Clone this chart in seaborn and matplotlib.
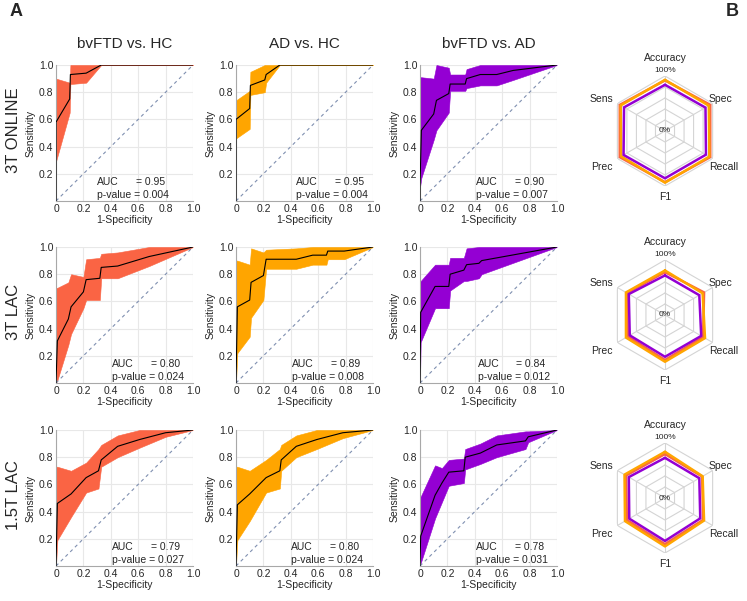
import matplotlib
matplotlib.use("Agg")
import numpy as np
import matplotlib.pyplot as plt
import seaborn as sns

sns.set_style("whitegrid")
plt.rcParams['font.family'] = ['Liberation Sans', 'DejaVu Sans']

W, H = 747, 601

rows = ['3T ONLINE', '3T LAC', '1.5T LAC']
comparisons = ['bvFTD vs. HC', 'AD vs. HC', 'bvFTD vs. AD']
colors = ['#FA6444', '#FFA500', '#9400D3']

auc_values = [['0.95', '0.95', '0.90'],
              ['0.80', '0.89', '0.84'],
              ['0.79', '0.80', '0.78']]
p_values = [['0.004', '0.004', '0.007'],
            ['0.024', '0.008', '0.012'],
            ['0.027', '0.024', '0.031']]

# ROC curves: fpr, mean tpr, lower band, upper band
# 3T ONLINE
online_ftd_hc_fpr = [0.0, 0.0, 0.10, 0.105, 0.22, 0.33, 1.0]
online_ftd_hc_mean = [0.0, 0.58, 0.75, 0.93, 0.94, 1.0, 1.0]
online_ftd_hc_lo = [0.0, 0.29, 0.65, 0.86, 0.87, 1.0, 1.0]
online_ftd_hc_hi = [0.0, 0.90, 0.87, 1.0, 1.0, 1.0, 1.0]

online_ad_hc_fpr = [0.0, 0.0, 0.10, 0.105, 0.21, 0.22, 0.32, 1.0]
online_ad_hc_mean = [0.0, 0.60, 0.68, 0.85, 0.89, 0.93, 1.0, 1.0]
online_ad_hc_lo = [0.0, 0.46, 0.53, 0.78, 0.80, 0.87, 1.0, 1.0]
online_ad_hc_hi = [0.0, 0.74, 0.81, 0.95, 1.0, 1.0, 1.0, 1.0]

online_ftd_ad_fpr = [0.0, 0.0, 0.01, 0.10, 0.12, 0.21, 0.22, 0.33, 0.34, 0.44, 0.56, 0.68, 1.0]
online_ftd_ad_mean = [0.0, 0.10, 0.52, 0.64, 0.74, 0.79, 0.86, 0.86, 0.90, 0.93, 0.93, 0.96, 1.0]
online_ftd_ad_lo = [0.0, 0.10, 0.17, 0.45, 0.52, 0.65, 0.81, 0.81, 0.83, 0.85, 0.85, 0.89, 1.0]
online_ftd_ad_hi = [0.0, 0.91, 0.91, 0.90, 1.0, 0.98, 0.93, 0.93, 0.97, 1.0, 1.0, 1.0, 1.0]

# 3T LAC
lac_ftd_hc_fpr = [0.0, 0.01, 0.09, 0.11, 0.20, 0.22, 0.32, 0.33, 0.45, 0.68, 1.0]
lac_ftd_hc_mean = [0.0, 0.31, 0.47, 0.56, 0.67, 0.76, 0.77, 0.85, 0.86, 0.93, 1.0]
lac_ftd_hc_lo = [0.0, 0.02, 0.28, 0.36, 0.55, 0.61, 0.61, 0.77, 0.77, 0.86, 1.0]
lac_ftd_hc_hi = [0.70, 0.70, 0.74, 0.80, 0.78, 0.91, 0.92, 0.95, 0.96, 1.0, 1.0]

lac_ad_hc_fpr = [0.0, 0.01, 0.10, 0.11, 0.20, 0.22, 0.44, 0.56, 0.66, 0.67, 0.79, 1.0]
lac_ad_hc_mean = [0.0, 0.56, 0.61, 0.74, 0.79, 0.91, 0.91, 0.94, 0.94, 0.97, 0.97, 1.0]
lac_ad_hc_lo = [0.0, 0.22, 0.34, 0.48, 0.61, 0.84, 0.84, 0.87, 0.87, 0.91, 0.91, 1.0]
lac_ad_hc_hi = [0.90, 0.90, 0.87, 0.99, 0.96, 0.98, 0.99, 1.0, 1.0, 1.0, 1.0, 1.0]

lac_ftd_ad_fpr = [0.0, 0.005, 0.11, 0.21, 0.22, 0.32, 0.34, 0.43, 0.45, 1.0]
lac_ftd_ad_mean = [0.0, 0.52, 0.71, 0.71, 0.80, 0.83, 0.87, 0.88, 0.90, 1.0]
lac_ftd_ad_lo = [0.0, 0.30, 0.55, 0.55, 0.68, 0.75, 0.75, 0.77, 0.80, 1.0]
lac_ftd_ad_hi = [0.75, 0.75, 0.87, 0.87, 0.92, 0.92, 0.99, 1.0, 1.0, 1.0]

# 1.5T LAC
low_ftd_hc_fpr = [0.0, 0.01, 0.11, 0.22, 0.31, 0.33, 0.45, 0.61, 0.80, 1.0]
low_ftd_hc_mean = [0.0, 0.46, 0.53, 0.65, 0.70, 0.78, 0.88, 0.93, 0.98, 1.0]
low_ftd_hc_lo = [0.0, 0.19, 0.36, 0.54, 0.57, 0.73, 0.80, 0.87, 0.95, 1.0]
low_ftd_hc_hi = [0.73, 0.73, 0.70, 0.76, 0.86, 0.89, 0.96, 1.0, 1.0, 1.0]

low_ad_hc_fpr = [0.0, 0.01, 0.10, 0.22, 0.32, 0.33, 0.44, 0.59, 0.78, 1.0]
low_ad_hc_mean = [0.0, 0.45, 0.53, 0.65, 0.70, 0.78, 0.88, 0.93, 0.98, 1.0]
low_ad_hc_lo = [0.0, 0.19, 0.33, 0.54, 0.57, 0.70, 0.80, 0.86, 0.94, 1.0]
low_ad_hc_hi = [0.73, 0.73, 0.70, 0.78, 0.86, 0.89, 0.96, 1.0, 1.0, 1.0]

low_ftd_ad_fpr = [0.0, 0.005, 0.11, 0.16, 0.21, 0.32, 0.33, 0.44, 0.56, 0.77, 0.79, 1.0]
low_ftd_ad_mean = [0.0, 0.22, 0.52, 0.61, 0.69, 0.70, 0.80, 0.83, 0.89, 0.92, 0.95, 1.0]
low_ftd_ad_lo = [0.0, 0.02, 0.35, 0.47, 0.59, 0.61, 0.71, 0.75, 0.80, 0.86, 0.91, 1.0]
low_ftd_ad_hi = [0.51, 0.51, 0.74, 0.72, 0.78, 0.79, 0.86, 0.90, 0.96, 0.99, 0.99, 1.0]

roc_curves = [
    [(online_ftd_hc_fpr, online_ftd_hc_mean, online_ftd_hc_lo, online_ftd_hc_hi),
     (online_ad_hc_fpr, online_ad_hc_mean, online_ad_hc_lo, online_ad_hc_hi),
     (online_ftd_ad_fpr, online_ftd_ad_mean, online_ftd_ad_lo, online_ftd_ad_hi)],
    [(lac_ftd_hc_fpr, lac_ftd_hc_mean, lac_ftd_hc_lo, lac_ftd_hc_hi),
     (lac_ad_hc_fpr, lac_ad_hc_mean, lac_ad_hc_lo, lac_ad_hc_hi),
     (lac_ftd_ad_fpr, lac_ftd_ad_mean, lac_ftd_ad_lo, lac_ftd_ad_hi)],
    [(low_ftd_hc_fpr, low_ftd_hc_mean, low_ftd_hc_lo, low_ftd_hc_hi),
     (low_ad_hc_fpr, low_ad_hc_mean, low_ad_hc_lo, low_ad_hc_hi),
     (low_ftd_ad_fpr, low_ftd_ad_mean, low_ftd_ad_lo, low_ftd_ad_hi)],
]

# radar metrics (clockwise from top), one list per comparison
metrics = ['Accuracy', 'Spec', 'Recall', 'F1', 'Prec', 'Sens']
ring_levels = [0.2, 0.4, 0.6, 0.8, 1.0]
radar_online = [[0.92, 0.95, 0.95, 0.93, 0.95, 0.95],
                [0.93, 0.92, 0.93, 0.94, 0.92, 0.93],
                [0.84, 0.85, 0.86, 0.86, 0.87, 0.86]]
radar_lac = [[0.78, 0.82, 0.80, 0.82, 0.78, 0.80],
             [0.81, 0.79, 0.84, 0.85, 0.82, 0.82],
             [0.72, 0.72, 0.76, 0.76, 0.74, 0.76]]
radar_low = [[0.80, 0.78, 0.80, 0.84, 0.80, 0.82],
             [0.84, 0.79, 0.82, 0.88, 0.84, 0.85],
             [0.73, 0.72, 0.74, 0.78, 0.75, 0.76]]
radars = [radar_online, radar_lac, radar_low]

# layout in pixels
col_left = [56, 236, 420]
row_top = [65, 247, 430]
ax_w, ax_h = 137, 136
auc_x = [[0.30, 0.44, 0.41], [0.41, 0.41, 0.42], [0.41, 0.40, 0.41]]
radar_cx = 665
radar_cy = [131, 315, 498]
radar_r = 55

fig = plt.figure(figsize=(W / 100, H / 100), dpi=100)


def add_px_axes(left, top, width, height, **kw):
    return fig.add_axes([left / W, 1 - (top + height) / H, width / W, height / H], **kw)


for i in range(3):
    for j in range(3):
        fpr, mean, lo, hi = roc_curves[i][j]
        ax = add_px_axes(col_left[j], row_top[i], ax_w, ax_h)
        ax.fill_between(fpr, lo, hi, color=colors[j], edgecolor=colors[j], lw=0.4, zorder=2)
        ax.axline((0, 0), slope=1, color='#7f8fb0', lw=0.8, ls=(0, (3, 3)), zorder=3)
        sns.lineplot(x=fpr, y=mean, ax=ax, color='black', lw=0.8,
                     sort=False, estimator=None, zorder=4)
        ax.set_xlim(0, 1)
        ax.set_ylim(0, 1)
        ax.set_xticks([0, 0.2, 0.4, 0.6, 0.8, 1.0])
        ax.set_xticklabels(['0', '0.2', '0.4', '0.6', '0.8', '1.0'])
        ax.set_yticks([0.2, 0.4, 0.6, 0.8, 1.0])
        ax.set_yticklabels(['0.2', '0.4', '0.6', '0.8', '1.0'])
        ax.tick_params(labelsize=7.5, length=0, pad=2)
        ax.grid(True, color='#e8e8e8', lw=0.8)
        for side in ['top', 'right']:
            ax.spines[side].set_visible(False)
        for side in ['left', 'bottom']:
            ax.spines[side].set_color('#a8a8a8')
            ax.spines[side].set_linewidth(0.8)
        ax.set_ylabel('Sensitivity', fontsize=7.5, labelpad=2)
        ax.set_xlabel('1-Specificity', fontsize=7.5, labelpad=1)
        ax.text(auc_x[i][j], 0.14, 'AUC', transform=ax.transAxes, fontsize=7.5, va='center')
        ax.annotate('= ' + auc_values[i][j], xy=(auc_x[i][j], 0.14), xycoords='axes fraction',
                    xytext=(28, 0), textcoords='offset points', fontsize=7.5, va='center')
        ax.text(auc_x[i][j], 0.045, 'p-value = ' + p_values[i][j], transform=ax.transAxes,
                fontsize=7.5, va='center')
        if i == 0:
            fig.text((col_left[j] + ax_w / 2) / W, 1 - 44 / H, comparisons[j],
                     fontsize=11, ha='center', va='center')
    fig.text(13 / W, 1 - (row_top[i] + ax_h / 2 - 3) / H, rows[i], rotation=90,
             fontsize=12, ha='center', va='center')

# radar charts
angles = np.linspace(0, 2 * np.pi, len(metrics), endpoint=False)
closed = np.append(angles, angles[0])
label_pos = {'Accuracy': (0.5, 1.16, 'center'), 'Spec': (0.9, 0.79, 'left'),
             'Recall': (0.9, 0.17, 'left'), 'F1': (0.5, -0.1, 'center'),
             'Prec': (0.02, 0.17, 'right'), 'Sens': (0.03, 0.79, 'right')}
for k in range(3):
    ax = add_px_axes(radar_cx - radar_r, radar_cy[k] - radar_r, 2 * radar_r, 2 * radar_r,
                     projection='polar')
    ax.set_theta_zero_location('N')
    ax.set_theta_direction(-1)
    ax.set_ylim(0, 1)
    ax.grid(False)
    ax.set_xticks([])
    ax.set_yticks([])
    ax.spines['polar'].set_visible(False)
    ax.set_facecolor('none')
    for level in ring_levels:
        ax.plot(closed, [level] * len(closed), color='#d4d4d4', lw=0.8, zorder=1)
    for a in angles:
        ax.plot([a, a], [0, 1], color='#d4d4d4', lw=0.8, zorder=1)
    for vals, c in zip(radars[k], colors):
        ax.plot(closed, vals + vals[:1], color=c, lw=1.8, zorder=3)
    for name in metrics:
        x, y, ha = label_pos[name]
        ax.text(x, y, name, transform=ax.transAxes, fontsize=7.5, ha=ha, va='center')
    ax.text(0.5, 1.05, '100%', transform=ax.transAxes, fontsize=6, ha='center', va='center')
    ax.text(0.5, 0.5, '0%', transform=ax.transAxes, fontsize=6, ha='center', va='center')

fig.text(10 / W, 1 - 12 / H, 'A', fontsize=13, fontweight='bold', ha='left', va='center')
fig.text(726 / W, 1 - 12 / H, 'B', fontsize=13, fontweight='bold', ha='left', va='center')

fig.savefig('out.png', dpi=100)
